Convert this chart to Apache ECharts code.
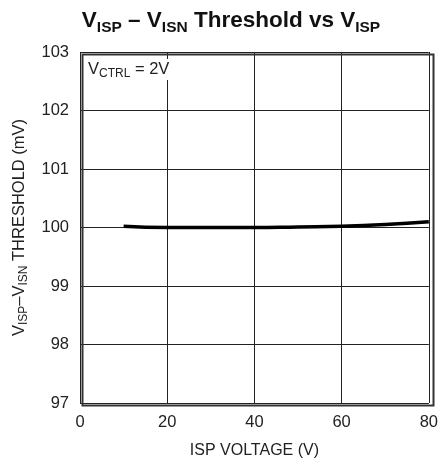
<!DOCTYPE html>
<html><head><meta charset="utf-8">
<script src="https://cdn.jsdelivr.net/npm/echarts@6/dist/echarts.min.js"></script>
<style>html,body{margin:0;padding:0;background:#fff}#c{width:441px;height:466px}</style>
</head><body><div id="c"></div>
<script>
var ispVoltage = [10, 20, 30, 40, 50, 60, 70, 80];
var threshold = [100.02, 100.0, 100.0, 100.0, 100.01, 100.02, 100.05, 100.1];
var xTicks = [0, 20, 40, 60, 80];
var yTicks = [97, 98, 99, 100, 101, 102, 103];

var F = '"Liberation Sans Narrow", "Liberation Sans", sans-serif';
var chart = echarts.init(document.getElementById('c'));
var data = ispVoltage.map(function(x, i){ return [x, threshold[i]]; });
chart.setOption({
  animation: false,
  title: {
    text: '{a|V}{s|ISP}{a| – V}{s|ISN}{a| Threshold vs V}{s|ISP}',
    left: 226, top: 1, textAlign: 'center',
    textStyle: {
      rich: {
        a: {fontFamily: F, fontWeight: 'bold', fontSize: 22.5, color: '#111', lineHeight: 30, verticalAlign: 'middle'},
        s: {fontFamily: F, fontWeight: 'bold', fontSize: 15.5, color: '#111', lineHeight: 30, verticalAlign: 'bottom'}
      }
    }
  },
  grid: {left: 80, right: 10, top: 52, bottom: 63},
  xAxis: {
    type: 'value', min: 0, max: 80, interval: 20,
    name: 'ISP VOLTAGE (V)', nameLocation: 'middle', nameGap: 40,
    nameTextStyle: {fontFamily: F, fontSize: 16, color: '#222'},
    axisLine: {show: false}, axisTick: {show: false},
    axisLabel: {fontFamily: F, fontSize: 16.5, color: '#222', margin: 11,
      formatter: function(v){ return xTicks.indexOf(v) >= 0 ? String(v) : ''; }},
    splitLine: {show: true, lineStyle: {color: '#222', width: 1}}
  },
  yAxis: {
    type: 'value', min: 97, max: 103, interval: 1,
    name: '{n|V}{s|ISP}{n|–V}{s|ISN}{n| THRESHOLD (mV)}', nameLocation: 'middle', nameGap: 50,
    nameTextStyle: {rich: {
      n: {fontFamily: F, fontSize: 16.5, color: '#222', lineHeight: 22, verticalAlign: 'middle'},
      s: {fontFamily: F, fontSize: 12, color: '#222', lineHeight: 22, verticalAlign: 'bottom'}
    }},
    axisLine: {show: false}, axisTick: {show: false},
    axisLabel: {fontFamily: F, fontSize: 16.5, color: '#222', margin: 11,
      formatter: function(v){ return yTicks.indexOf(v) >= 0 ? String(v) : ''; }},
    splitLine: {show: true, lineStyle: {color: '#222', width: 1}}
  },
  graphic: [
    {type: 'rect', left: 80, top: 52, shape: {width: 351, height: 351}, style: {fill: 'none', stroke: '#333', lineWidth: 2}, z: 10},
    {type: 'text', left: 88, top: 59, z: 11, style: {
      text: '{n|V}{s|CTRL}{n| = 2V}', backgroundColor: '#fff',
      rich: {
        n: {fontFamily: F, fontSize: 16.5, fill: '#222', lineHeight: 21, verticalAlign: 'middle'},
        s: {fontFamily: F, fontSize: 12, fill: '#222', lineHeight: 21, verticalAlign: 'bottom'}
      }}}
  ],
  series: [{
    type: 'line', data: data, smooth: true, showSymbol: false,
    lineStyle: {color: '#000', width: 3.5}
  }]
});
</script></body></html>
